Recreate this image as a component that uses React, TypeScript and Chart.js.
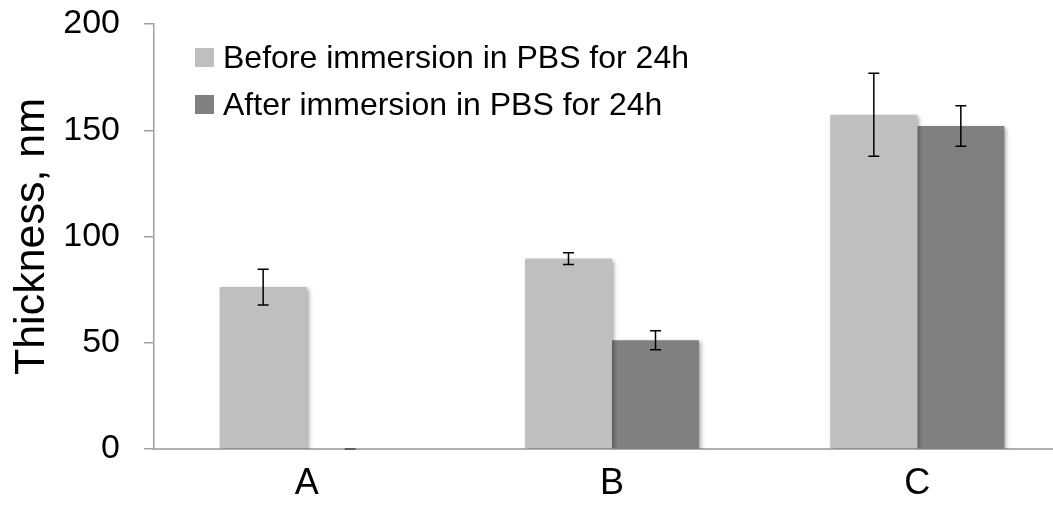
import React, { useEffect, useRef } from "react";
import { Chart, registerables } from "chart.js";

Chart.register(...registerables);

const categories = ["A", "B", "C"];
const seriesLabels = ["Before immersion in PBS for 24h", "After immersion in PBS for 24h"];
const beforeValues = [76.2, 89.6, 157.3];
const beforeErrors = [8.4, 2.8, 19.5];
const afterValues = [0, 51.2, 152.0];
const afterErrors = [0, 4.5, 9.5];
const seriesColors = ["#BFBFBF", "#808080"];
const yMin = 0;
const yMax = 200;
const yStep = 50;

const FONT = "'Liberation Sans', Arial, sans-serif";

const shadowPlugin = {
  id: "barShadow",
  beforeDatasetsDraw(chart: any) {
    const ctx = chart.ctx;
    ctx.save();
    ctx.shadowColor = "rgba(0,0,0,0.35)";
    ctx.shadowBlur = 4;
    ctx.shadowOffsetX = 2;
    ctx.shadowOffsetY = 2;
  },
  afterDatasetsDraw(chart: any) {
    chart.ctx.restore();
  },
};

const errorBarPlugin = {
  id: "errorBars",
  afterDatasetsDraw(chart: any) {
    const ctx = chart.ctx;
    const yScale = chart.scales.y;
    const errs = [beforeErrors, afterErrors];
    chart.data.datasets.forEach((ds: any, di: number) => {
      const meta = chart.getDatasetMeta(di);
      meta.data.forEach((bar: any, i: number) => {
        const v = ds.data[i];
        const e = errs[di][i];
        const x = bar.x;
        const yTop = yScale.getPixelForValue(v + e);
        const yBot = yScale.getPixelForValue(Math.max(0, v - e));
        ctx.save();
        ctx.strokeStyle = e === 0 ? "#444" : "#000";
        ctx.lineWidth = 1.5;
        ctx.beginPath();
        ctx.moveTo(x, yTop);
        ctx.lineTo(x, yBot);
        ctx.moveTo(x - 5.5, yTop);
        ctx.lineTo(x + 5.5, yTop);
        ctx.moveTo(x - 5.5, yBot);
        ctx.lineTo(x + 5.5, yBot);
        ctx.stroke();
        ctx.restore();
      });
    });
  },
};

const legendPlugin = {
  id: "insideLegend",
  afterDraw(chart: any) {
    const ctx = chart.ctx;
    const { left, top } = chart.chartArea;
    ctx.save();
    ctx.font = `32px ${FONT}`;
    ctx.textBaseline = "middle";
    ctx.textAlign = "left";
    seriesLabels.forEach((label, i) => {
      const rowY = top + 24 + i * 47;
      ctx.fillStyle = seriesColors[i];
      ctx.fillRect(left + 41, rowY, 19, 19);
      ctx.fillStyle = "#000";
      ctx.fillText(label, left + 69, rowY + 11);
    });
    ctx.restore();
  },
};

export default function App() {
  const canvasRef = useRef<HTMLCanvasElement | null>(null);

  useEffect(() => {
    if (!canvasRef.current) return;
    const chart = new Chart(canvasRef.current, {
      type: "bar",
      data: {
        labels: categories,
        datasets: [
          {
            label: seriesLabels[0],
            data: beforeValues,
            backgroundColor: seriesColors[0],
            borderWidth: 0,
            categoryPercentage: 0.57,
            barPercentage: 1.0,
          },
          {
            label: seriesLabels[1],
            data: afterValues,
            backgroundColor: seriesColors[1],
            borderWidth: 0,
            categoryPercentage: 0.57,
            barPercentage: 1.0,
          },
        ],
      },
      options: {
        responsive: false,
        animation: false,
        maintainAspectRatio: false,
        layout: { padding: { top: 24, right: 10, bottom: 0, left: 0 } },
        plugins: {
          legend: { display: false },
          tooltip: { enabled: false },
        },
        scales: {
          x: {
            grid: { display: false, drawTicks: false },
            border: { display: true, color: "#B0B0B0", width: 2 },
            ticks: {
              color: "#000",
              font: { family: FONT, size: 36 },
              padding: 13,
            },
            afterFit(scale: any) {
              scale.height = 56;
              scale.paddingLeft = 0;
              scale.paddingRight = 0;
            },
          },
          y: {
            min: yMin,
            max: yMax,
            ticks: {
              stepSize: yStep,
              color: "#000",
              font: { family: FONT, size: 34 },
              padding: 24,
            },
            grid: {
              display: true,
              drawOnChartArea: false,
              drawTicks: true,
              tickLength: 10,
              color: "#A0A0A0",
              lineWidth: 1.5,
            },
            border: { display: true, color: "#A0A0A0", width: 1.5 },
            title: {
              display: true,
              text: "Thickness, nm",
              color: "#000",
              font: { family: FONT, size: 43 },
              padding: { top: 6, bottom: 0 },
            },
            afterFit(scale: any) {
              scale.width = 154;
              scale.paddingTop = 0;
              scale.paddingBottom = 0;
            },
          },
        },
      },
      plugins: [shadowPlugin, errorBarPlugin, legendPlugin],
    });
    return () => chart.destroy();
  }, []);

  return (
    <div
      style={{
        position: "fixed",
        left: 0,
        top: 0,
        width: 1053,
        height: 505,
        overflow: "hidden",
        background: "#fff",
      }}
    >
      <canvas ref={canvasRef} width={1080} height={505} style={{ display: "block" }} />
    </div>
  );
}
